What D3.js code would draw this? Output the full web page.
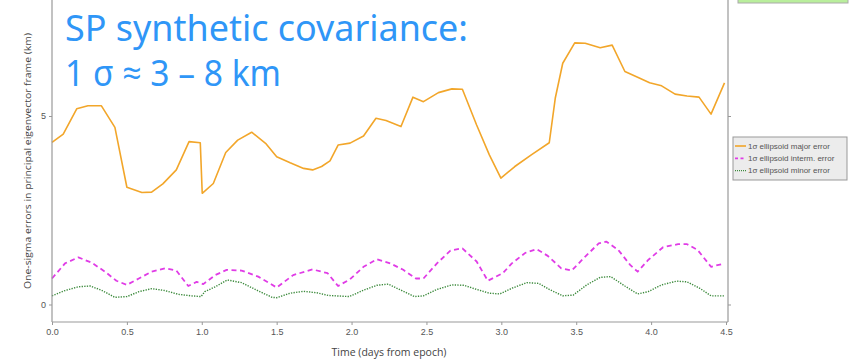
<!DOCTYPE html>
<html>
<head>
<meta charset="utf-8">
<script src="https://cdn.jsdelivr.net/npm/d3@7"></script>
<style>
  html, body { margin: 0; padding: 0; background: #fff; }
  svg { display: block; }
</style>
</head>
<body>
<svg id="chart" width="851" height="360"></svg>
<script>
// ---- data (days from epoch, km) ----
const majorDays = [0, 0.075, 0.165, 0.24, 0.33, 0.42, 0.50, 0.60, 0.665, 0.74, 0.83, 0.915, 0.99, 1.003, 1.077, 1.16, 1.24, 1.333, 1.43, 1.50, 1.59, 1.68, 1.74, 1.80, 1.856, 1.91, 1.99, 2.08, 2.163, 2.23, 2.33, 2.41, 2.48, 2.58, 2.67, 2.74, 2.835, 2.92, 2.997, 3.09, 3.20, 3.32, 3.36, 3.41, 3.49, 3.56, 3.66, 3.74, 3.825, 3.91, 3.99, 4.07, 4.16, 4.24, 4.32, 4.40, 4.49];
const majorVals = [4.30, 4.52, 5.19, 5.27, 5.27, 4.70, 3.11, 2.97, 2.98, 3.20, 3.57, 4.32, 4.29, 2.95, 3.21, 4.03, 4.36, 4.57, 4.26, 3.92, 3.76, 3.61, 3.57, 3.66, 3.81, 4.23, 4.28, 4.47, 4.94, 4.88, 4.72, 5.50, 5.38, 5.62, 5.72, 5.71, 4.76, 3.97, 3.35, 3.66, 3.97, 4.29, 5.47, 6.40, 6.94, 6.93, 6.81, 6.88, 6.18, 6.03, 5.88, 5.80, 5.58, 5.53, 5.50, 5.05, 5.88];

const intermDays = [0, 0.087, 0.176, 0.265, 0.354, 0.43, 0.50, 0.58, 0.665, 0.754, 0.83, 0.91, 0.966, 1.01, 1.09, 1.166, 1.266, 1.377, 1.50, 1.61, 1.74, 1.84, 1.91, 1.99, 2.08, 2.17, 2.26, 2.345, 2.43, 2.48, 2.57, 2.66, 2.74, 2.835, 2.91, 3.01, 3.07, 3.16, 3.235, 3.31, 3.40, 3.47, 3.56, 3.65, 3.70, 3.78, 3.86, 3.91, 3.98, 4.08, 4.18, 4.24, 4.31, 4.40, 4.49];
const intermVals = [0.69, 1.09, 1.25, 1.11, 0.87, 0.63, 0.52, 0.69, 0.87, 0.96, 0.90, 0.49, 0.60, 0.54, 0.78, 0.92, 0.90, 0.74, 0.45, 0.78, 0.93, 0.83, 0.49, 0.67, 1.00, 1.20, 1.09, 0.92, 0.69, 0.69, 1.09, 1.43, 1.49, 1.14, 0.63, 0.83, 1.09, 1.37, 1.47, 1.29, 0.96, 0.90, 1.27, 1.62, 1.67, 1.45, 1.05, 0.87, 1.18, 1.52, 1.60, 1.60, 1.45, 1.00, 1.09];

const minorDays = [0, 0.087, 0.176, 0.254, 0.33, 0.42, 0.50, 0.58, 0.665, 0.754, 0.843, 0.93, 0.995, 1.02, 1.09, 1.17, 1.266, 1.377, 1.47, 1.50, 1.59, 1.68, 1.77, 1.845, 1.985, 2.08, 2.17, 2.245, 2.33, 2.42, 2.48, 2.57, 2.67, 2.75, 2.835, 2.92, 2.99, 3.07, 3.17, 3.25, 3.32, 3.41, 3.48, 3.57, 3.66, 3.73, 3.825, 3.91, 3.98, 4.07, 4.17, 4.24, 4.325, 4.40, 4.49];
const minorVals = [0.23, 0.37, 0.47, 0.49, 0.38, 0.19, 0.21, 0.34, 0.42, 0.37, 0.27, 0.23, 0.21, 0.34, 0.47, 0.65, 0.58, 0.36, 0.19, 0.18, 0.30, 0.35, 0.31, 0.24, 0.21, 0.38, 0.51, 0.54, 0.38, 0.21, 0.23, 0.40, 0.52, 0.51, 0.40, 0.30, 0.28, 0.43, 0.58, 0.56, 0.40, 0.23, 0.25, 0.52, 0.72, 0.74, 0.49, 0.28, 0.34, 0.52, 0.62, 0.60, 0.43, 0.23, 0.23];

const xTicks = [0, 0.5, 1.0, 1.5, 2.0, 2.5, 3.0, 3.5, 4.0, 4.5];
const yTicks = [0, 5];
const legendLabels = ["1σ ellipsoid major error", "1σ ellipsoid interm. error", "1σ ellipsoid minor error"];
const titleLines = ["SP synthetic covariance:", "1 σ ≈ 3 – 8 km"];
const xLabel = "Time (days from epoch)";
const yLabel = "One-sigma errors in principal eigenvector frame (km)";

// ---- drawing ----
const svg = d3.select("#chart");
const x = d3.scaleLinear().domain([0, 4.5]).range([52, 726]);
const y = d3.scaleLinear().domain([0, 5]).range([304.5, 116]);
const plotTop = 0, plotBottom = 322, plotLeft = 52, plotRight = 728;

const series = [
  { days: majorDays, vals: majorVals, color: "#f2a62a", width: 1.6, dash: null, legendDash: null },
  { days: intermDays, vals: intermVals, color: "#e03ce6", width: 1.8, dash: "5,3.5", legendDash: "3,2.5" },
  { days: minorDays, vals: minorVals, color: "#3c8a3c", width: 1.4, dash: "1.3,1.3", legendDash: "1,1" }
];

const line = d3.line().x(d => x(d[0])).y(d => y(d[1]));
series.forEach(s => {
  svg.append("path")
    .datum(s.days.map((d, i) => [d, s.vals[i]]))
    .attr("fill", "none")
    .attr("stroke", s.color)
    .attr("stroke-width", s.width)
    .attr("stroke-linejoin", "round")
    .attr("stroke-dasharray", s.dash)
    .attr("d", line);
});

// frame lines
const frame = svg.append("g").attr("stroke", "#999").attr("stroke-width", 1.2);
frame.append("line").attr("x1", plotLeft).attr("x2", plotLeft).attr("y1", plotTop).attr("y2", plotBottom);
frame.append("line").attr("x1", plotRight).attr("x2", plotRight).attr("y1", plotTop).attr("y2", plotBottom);
frame.append("line").attr("x1", plotLeft).attr("x2", plotRight).attr("y1", plotBottom).attr("y2", plotBottom);

// axes
svg.append("g").attr("transform", `translate(0,${plotBottom})`)
  .call(d3.axisBottom(x).tickValues(xTicks).tickFormat(d3.format(".1f")).tickSize(3).tickPadding(4));
svg.append("g").attr("transform", `translate(${plotLeft},0)`)
  .call(d3.axisLeft(y).tickValues(yTicks).tickFormat(d3.format("d")).tickSize(3).tickPadding(3));
svg.append("g").attr("transform", `translate(${plotRight},0)`)
  .call(d3.axisRight(y).tickValues(yTicks).tickFormat("").tickSize(3));
svg.selectAll(".domain").remove();
svg.selectAll(".tick line").attr("stroke", "#999");
svg.selectAll(".tick text").attr("fill", "#555").style("font-family", "'Liberation Sans', Arial, sans-serif").style("font-size", "9px");

// axis labels
svg.append("text")
  .attr("x", 389).attr("y", 356)
  .attr("text-anchor", "middle")
  .style("font-family", "'Open Sans', 'Noto Sans', sans-serif")
  .style("font-size", "10.5px")
  .attr("fill", "#444")
  .text(xLabel);
svg.append("text")
  .attr("transform", "translate(31,161) rotate(-90)")
  .attr("text-anchor", "middle")
  .style("font-family", "'Open Sans', 'Noto Sans', sans-serif")
  .style("font-size", "9.5px")
  .attr("fill", "#444")
  .attr("textLength", 256)
  .attr("lengthAdjust", "spacingAndGlyphs")
  .text(yLabel);

// overlay title text
svg.append("text")
  .attr("x", 65).attr("y", 41)
  .style("font-family", "'Noto Sans', 'Open Sans', sans-serif")
  .style("font-size", "36px")
  .attr("fill", "#2f96f7")
  .attr("textLength", 403)
  .attr("lengthAdjust", "spacingAndGlyphs")
  .text(titleLines[0]);
svg.append("text")
  .attr("x", 65).attr("y", 86)
  .style("font-family", "'Noto Sans', 'Open Sans', sans-serif")
  .style("font-size", "36px")
  .attr("fill", "#2f96f7")
  .attr("textLength", 216)
  .attr("lengthAdjust", "spacingAndGlyphs")
  .text(titleLines[1]);

// legend
const lg = svg.append("g");
lg.append("rect").attr("x", 733).attr("y", 137).attr("width", 114).attr("height", 43)
  .attr("fill", "#ececec").attr("stroke", "#999").attr("stroke-width", 1);
series.forEach((s, i) => {
  const cy = 146 + i * 12.3;
  lg.append("line").attr("x1", 735).attr("x2", 746).attr("y1", cy).attr("y2", cy)
    .attr("stroke", s.color).attr("stroke-width", s.width).attr("stroke-dasharray", s.legendDash);
  lg.append("text").attr("x", 748).attr("y", cy + 2.8)
    .style("font-family", "'Liberation Sans', Arial, sans-serif")
    .style("font-size", "8px")
    .attr("fill", "#555")
    .text(legendLabels[i]);
});

// cropped element at top right
svg.append("rect").attr("x", 738).attr("y", -6).attr("width", 110).attr("height", 9)
  .attr("fill", "#b9ee9c").attr("stroke", "#aaa").attr("stroke-width", 1);
</script>
</body>
</html>
